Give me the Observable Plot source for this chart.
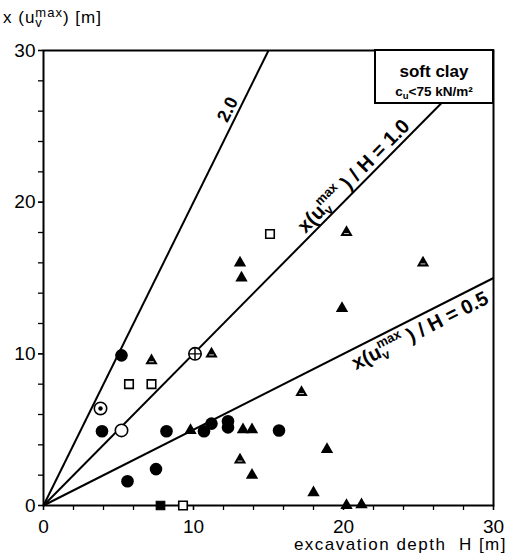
<!DOCTYPE html>
<html><head><meta charset="utf-8">
<script src="https://cdn.jsdelivr.net/npm/d3@7"></script>
<script src="https://cdn.jsdelivr.net/npm/@observablehq/plot@0.6"></script>
<style>
body{margin:0;background:#fff;}
svg{font-family:"Liberation Sans",Arial,sans-serif;}
</style>
</head><body><div id="chart"></div>
<script>
// ---- data ----
const xDomain = [0, 30];
const yDomain = [0, 30];
const majorTicks = [0, 10, 20, 30];
const minorTicks = [0, 2, 4, 6, 8, 10, 12, 14, 16, 18, 20, 22, 24, 26, 28, 30];
const ratios = [2.0, 1.0, 0.5];
const ratioLabels = ["2.0", "1.0", "0.5"];

const filledCircleH = [5.2, 3.9, 8.2, 10.7, 11.2, 12.3, 12.3, 15.7, 5.6, 7.5];
const filledCircleY = [9.9, 4.9, 4.9, 4.9, 5.4, 5.55, 5.15, 4.95, 1.6, 2.4];
const openCircleH = [5.2];
const openCircleY = [4.95];
const dotCircleH = [3.8];
const dotCircleY = [6.4];
const plusCircleH = [10.1];
const plusCircleY = [10.0];
const openSquareH = [5.7, 7.2, 9.3, 15.1];
const openSquareY = [8.0, 8.0, 0.0, 17.9];
const filledSquareH = [7.8];
const filledSquareY = [0.0];
const triangleH = [9.8, 13.1, 13.2, 19.9, 13.3, 13.9, 13.9, 18.9, 18.0, 20.2, 21.2];
const triangleY = [4.95, 16.0, 15.0, 13.0, 5.0, 5.0, 2.0, 3.7, 0.85, 0.0, 0.05];
const hatchTriH = [7.2, 11.2, 20.2, 17.2, 13.1, 25.3];
const hatchTriY = [9.55, 10.0, 18.0, 7.45, 3.0, 16.0];

// ---- helpers ----
const pts = (H, Y) => H.map((h, i) => ({x: h, y: Y[i]}));
const lines = ratios.map(r => {
  const xe = Math.min(xDomain[1], yDomain[1] / r);
  return {x1: 0, y1: 0, x2: xe, y2: r * xe};
});

const plusSym = {draw(ctx, size) {
  const r = Math.sqrt(size / Math.PI);
  ctx.moveTo(-r, 0); ctx.lineTo(r, 0);
  ctx.moveTo(0, -r); ctx.lineTo(0, r);
}};
const hatchSym = {draw(ctx, size) {
  const y = -Math.sqrt(size / (3 * Math.sqrt(3)));
  const hw = t => Math.sqrt(3) * (-y) * (t - 2 * y) / (-3 * y);
  const t = 0.3 * (-y);
  const w = hw(t) * 0.5;
  ctx.moveTo(-w, t); ctx.lineTo(w, t);
}};

const svg = Plot.plot({
  width: 510, height: 560,
  marginLeft: 43, marginRight: 17, marginTop: 50, marginBottom: 55,
  style: {fontFamily: "Liberation Sans, Arial, sans-serif", fontSize: "19px", background: "white", color: "black"},
  x: {domain: xDomain},
  y: {domain: yDomain},
  marks: [
    Plot.axisX({ticks: minorTicks, tickFormat: () => "", tickSize: 5, label: null, strokeWidth: 1.3}),
    Plot.axisX({ticks: majorTicks, tickFormat: d => String(d), tickSize: 5, tickPadding: 9, label: null, fontSize: 19, strokeWidth: 1.3}),
    Plot.axisY({ticks: minorTicks, tickFormat: () => "", tickSize: 5, label: null, strokeWidth: 1.3}),
    Plot.axisY({ticks: majorTicks, tickFormat: d => String(d), tickSize: 5, tickPadding: 3, label: null, fontSize: 19, strokeWidth: 1.3}),
    Plot.link(lines, {x1: "x1", y1: "y1", x2: "x2", y2: "y2", stroke: "black", strokeWidth: 2}),
    Plot.frame({stroke: "black", strokeWidth: 2}),
    Plot.dot(pts(triangleH, triangleY), {x: "x", y: "y", symbol: "triangle", r: 4.6, fill: "black", stroke: "none"}),
    Plot.dot(pts(hatchTriH, hatchTriY), {x: "x", y: "y", symbol: "triangle", r: 4.6, fill: "black", stroke: "none"}),
    Plot.dot(pts(hatchTriH, hatchTriY), {x: "x", y: "y", symbol: hatchSym, r: 4.6, fill: "none", stroke: "white", strokeWidth: 0.8}),
    Plot.dot(pts(filledCircleH, filledCircleY), {x: "x", y: "y", r: 6.3, fill: "black", stroke: "none"}),
    Plot.dot(pts(openSquareH, openSquareY), {x: "x", y: "y", symbol: "square", r: 4.8, fill: "white", stroke: "black", strokeWidth: 1.6}),
    Plot.dot(pts(filledSquareH, filledSquareY), {x: "x", y: "y", symbol: "square", r: 4.8, fill: "black", stroke: "black", strokeWidth: 1.2}),
    Plot.dot(pts(openCircleH, openCircleY), {x: "x", y: "y", r: 6.2, fill: "white", stroke: "black", strokeWidth: 1.6}),
    Plot.dot(pts(dotCircleH, dotCircleY), {x: "x", y: "y", r: 6.2, fill: "white", stroke: "black", strokeWidth: 1.6}),
    Plot.dot(pts(dotCircleH, dotCircleY), {x: "x", y: "y", r: 2.2, fill: "black", stroke: "none"}),
    Plot.dot(pts(plusCircleH, plusCircleY), {x: "x", y: "y", r: 6.2, fill: "white", stroke: "black", strokeWidth: 1.6}),
    Plot.dot(pts(plusCircleH, plusCircleY), {x: "x", y: "y", symbol: plusSym, r: 6.2, fill: "none", stroke: "black", strokeWidth: 1.4})
  ]
});
document.getElementById("chart").appendChild(svg);

const xs = svg.scale("x"), ys = svg.scale("y");
const root = d3.select(svg);

// rich text: base + (sup stacked over sub) + rest
function rich(text, base, sup, sub, rest, sfs, supDy, subDy) {
  text.append("tspan").text(base);
  const tSup = text.append("tspan").attr("font-size", sfs).attr("dy", -supDy).text(sup);
  const supLen = tSup.node().getComputedTextLength();
  const tSub = text.append("tspan").attr("font-size", sfs).attr("dy", supDy + subDy).attr("dx", -supLen).text(sub);
  const subLen = tSub.node().getComputedTextLength();
  text.append("tspan").attr("dy", -subDy).attr("dx", supLen - subLen).text(rest);
}

// line labels
const labelPos = [
  {i: 0, H: 12.9, dy: -4, fs: 18, kind: "short"},
  {i: 1, H: 21.2, dy: -4, fs: 20, kind: "long"},
  {i: 2, H: 24.7, dy: 21, fs: 20, kind: "long"}
];
for (const L of labelPos) {
  const r = ratios[L.i];
  const px = xs.apply(L.H), py = ys.apply(r * L.H);
  const ang = Math.atan2(ys.apply(r * 10) - ys.apply(0), xs.apply(10) - xs.apply(0)) * 180 / Math.PI;
  const t = root.append("text")
    .attr("transform", `translate(${px},${py}) rotate(${ang})`)
    .attr("text-anchor", "middle").attr("dy", L.dy)
    .attr("font-weight", "bold").attr("font-size", L.fs).attr("fill", "black");
  if (L.kind === "short") t.text(ratioLabels[L.i]);
  else rich(t, "x(u", "max", "v", " ) / H = " + ratioLabels[L.i], 13, 9, 4);
}

// y-axis title
const yt = root.append("text").attr("x", 3).attr("y", 23).attr("text-anchor", "start")
  .attr("font-size", 17).attr("letter-spacing", "1px").attr("fill", "black");
rich(yt, "x (u", "max", "v", ") [m]", 13, 6, 4);

// x-axis title
root.append("text").attr("x", 507).attr("y", 550).attr("text-anchor", "end")
  .attr("font-size", 17).attr("letter-spacing", "1.5px").attr("fill", "black").attr("xml:space", "preserve")
  .style("white-space", "pre").text("excavation depth  H [m]");

// legend box
const bx1 = xs.apply(xDomain[1]) - 118, bx2 = xs.apply(xDomain[1]);
const by1 = ys.apply(yDomain[1]), by2 = by1 + 53;
root.append("rect").attr("x", bx1).attr("y", by1).attr("width", bx2 - bx1).attr("height", by2 - by1)
  .attr("fill", "white").attr("stroke", "black").attr("stroke-width", 2);
root.append("text").attr("x", (bx1 + bx2) / 2).attr("y", by1 + 27).attr("text-anchor", "middle")
  .attr("font-size", 17).attr("font-weight", "bold").attr("fill", "black").text("soft clay");
const lt = root.append("text").attr("x", (bx1 + bx2) / 2).attr("y", by1 + 46).attr("text-anchor", "middle")
  .attr("font-size", 13.5).attr("font-weight", "bold").attr("fill", "black");
lt.append("tspan").text("c");
lt.append("tspan").attr("font-size", 9.5).attr("dy", 3).text("u");
lt.append("tspan").attr("dy", -3).text("<75 kN/m²");
</script>
</body></html>
